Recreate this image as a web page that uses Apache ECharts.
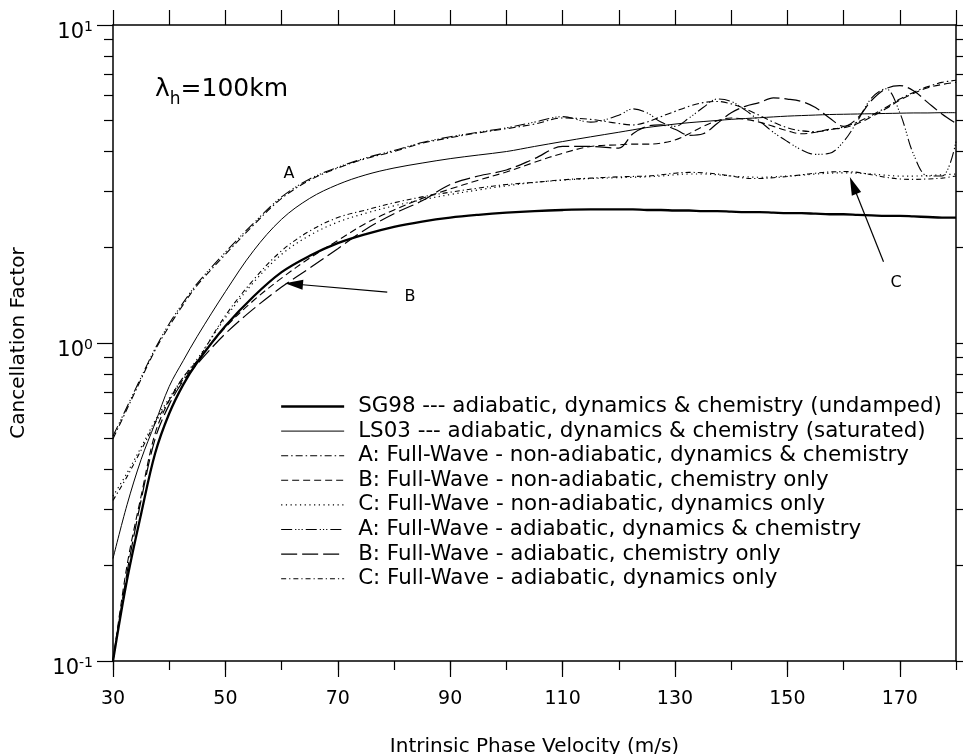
<!DOCTYPE html>
<html><head><meta charset="utf-8">
<script src="https://cdn.jsdelivr.net/npm/echarts@6/dist/echarts.min.js"></script>
<style>html,body{margin:0;padding:0;background:#fff}#c{width:963px;height:754px}</style>
</head><body><div id="c"></div>
<script>
// ---------- data ----------
const velocity = [30,32.5,35,37.5,40,42.5,45,50,55,60,65,70,75,80,85,90,95,100,105,110,115,120,
  122.5,125,127.5,130,132.5,135,137.5,140,142.5,145,147.5,150,152.5,155,157.5,160,162.5,165,167.5,170,172.5,175,177.5,180];

const sg98 = [0.10,0.18,0.29,0.45,0.60,0.74,0.87,1.13,1.40,1.67,1.88,2.06,2.20,2.32,2.41,2.48,2.53,2.57,2.60,2.62,2.63,2.63,
  2.63,2.62,2.62,2.61,2.61,2.60,2.60,2.59,2.58,2.58,2.57,2.56,2.56,2.55,2.54,2.54,2.53,2.52,2.51,2.51,2.50,2.49,2.48,2.48];
const ls03 = [0.21,0.31,0.43,0.56,0.73,0.88,1.05,1.45,1.95,2.45,2.85,3.15,3.38,3.55,3.68,3.8,3.9,4.0,4.15,4.3,4.45,4.6,
  4.68,4.76,4.82,4.88,4.93,4.97,5.01,5.05,5.08,5.11,5.14,5.17,5.19,5.21,5.23,5.24,5.25,5.26,5.27,5.28,5.29,5.29,5.30,5.30];
const aNonAdi = [0.50,0.62,0.77,0.95,1.13,1.32,1.52,1.90,2.35,2.85,3.25,3.55,3.80,4.00,4.25,4.42,4.58,4.72,4.88,5.10,5.05,4.90,
  4.85,4.95,5.15,5.35,5.55,5.70,5.75,5.65,5.45,5.20,4.95,4.75,4.65,4.62,4.68,4.78,4.95,5.20,5.50,5.85,6.15,6.40,6.60,6.70];
const bNonAdi = [0.10,0.20,0.33,0.52,0.66,0.78,0.88,1.12,1.36,1.60,1.85,2.10,2.38,2.62,2.85,3.05,3.25,3.45,3.70,3.95,4.15,4.20,
  4.22,4.22,4.25,4.35,4.55,4.80,5.00,5.10,5.05,4.95,4.80,4.65,4.55,4.60,4.70,4.75,4.90,5.15,5.45,5.80,6.10,6.35,6.50,6.60];
const cNonAdi = [0.33,0.39,0.47,0.57,0.67,0.78,0.89,1.20,1.55,1.90,2.18,2.40,2.56,2.70,2.82,2.93,3.03,3.12,3.20,3.25,3.29,3.31,
  3.32,3.33,3.35,3.38,3.40,3.40,3.38,3.35,3.33,3.32,3.33,3.35,3.37,3.40,3.42,3.43,3.42,3.40,3.37,3.35,3.35,3.36,3.38,3.40];
const aAdi = [0.51,0.63,0.78,0.96,1.15,1.34,1.54,1.93,2.38,2.88,3.28,3.57,3.82,4.03,4.27,4.45,4.60,4.75,4.95,5.15,4.95,5.20,
  5.45,5.30,4.95,4.80,5.10,5.50,5.85,5.75,5.40,5.00,4.60,4.30,4.05,3.92,3.95,4.30,5.00,5.90,6.30,5.30,3.90,3.35,3.35,4.30];
const bAdi = [0.10,0.19,0.32,0.50,0.64,0.76,0.86,1.07,1.28,1.50,1.72,1.98,2.28,2.55,2.80,3.15,3.35,3.50,3.80,4.15,4.15,4.10,
  4.55,4.80,4.85,4.70,4.50,4.55,4.90,5.30,5.55,5.70,5.90,5.85,5.75,5.50,5.10,4.80,5.10,5.80,6.30,6.45,6.20,5.70,5.25,4.90];
const cAdi = [0.32,0.38,0.46,0.56,0.66,0.77,0.88,1.22,1.58,1.95,2.25,2.48,2.62,2.76,2.88,2.98,3.07,3.15,3.20,3.26,3.30,3.33,
  3.34,3.35,3.38,3.42,3.44,3.43,3.40,3.35,3.30,3.29,3.31,3.34,3.38,3.42,3.45,3.46,3.44,3.38,3.32,3.28,3.27,3.28,3.30,3.35];

const seriesNames = [
  'SG98 --- adiabatic, dynamics & chemistry (undamped)',
  'LS03 --- adiabatic, dynamics & chemistry (saturated)',
  'A: Full-Wave - non-adiabatic, dynamics & chemistry',
  'B: Full-Wave - non-adiabatic, chemistry only',
  'C: Full-Wave - non-adiabatic, dynamics only',
  'A: Full-Wave - adiabatic, dynamics & chemistry',
  'B: Full-Wave - adiabatic, chemistry only',
  'C: Full-Wave - adiabatic, dynamics only'
];
const seriesValues = [sg98, ls03, aNonAdi, bNonAdi, cNonAdi, aAdi, bAdi, cAdi];

const xLabelValues = [30,50,70,90,110,130,150,170];
const xMajorTicks = [30,50,70,90,110,130,150,170];
const yMajorTicks = [0.1, 1, 10];
const yMinorTicks = [0.2,0.3,0.4,0.5,0.6,0.7,0.8,0.9,2,3,4,5,6,7,8,9];

// annotation arrows (data space): [tail, head centre]
const arrowB = [[78.8, 1.446], [62.2, 1.533]];
const arrowC = [[167.1, 1.80], [161.7, 3.13]];

// ---------- styles ----------
const FONT = 'DejaVu Sans';
const styles = [
  {width: 2.3, type: 'solid'},
  {width: 1.0, type: 'solid'},
  {width: 1.1, type: [7,3,1.5,3]},
  {width: 1.1, type: [7,4]},
  {width: 1.2, type: [1.2,3.5]},
  {width: 1.1, type: [11,3,1.2,2,1.2,2,1.2,3]},
  {width: 1.2, type: [16,5]},
  {width: 1.1, type: [5,3,1.2,3]}
];

const chart = echarts.init(document.getElementById('c'), null, {renderer: 'canvas'});

const series = seriesNames.map((name, i) => ({
  name: name,
  type: 'line',
  xAxisIndex: 0, yAxisIndex: 0,
  data: velocity.map((v, j) => [v, seriesValues[i][j]]),
  showSymbol: false, symbol: 'none',
  smooth: 0.35,
  lineStyle: {color: '#000', width: styles[i].width, type: styles[i].type},
  itemStyle: {color: '#000'},
  emphasis: {disabled: true},
  silent: true,
  animation: false,
  z: 3
}));

series[0].markLine = {
  silent: true,
  animation: false,
  symbol: ['none', 'path://M5 0 L10 18 L0 18 Z'],
  symbolKeepAspect: true,
  symbolSize: 18,
  lineStyle: {color: '#000', width: 1.2, type: 'solid'},
  itemStyle: {color: '#000'},
  label: {show: false},
  emphasis: {disabled: true},
  data: [
    [{coord: arrowB[0]}, {coord: arrowB[1]}],
    [{coord: arrowC[0]}, {coord: arrowC[1]}]
  ]
};

const axisLineStyle = {color: '#000', width: 1.5};
const tickStyle = {color: '#000', width: 1.2};

function yAxisDef(pos, ticks, len, showLine, showLabel) {
  const ax = {
    type: 'log', logBase: 10, min: 0.1, max: 10, position: pos,
    axisLine: {show: showLine, lineStyle: axisLineStyle},
    axisTick: {show: true, inside: false, length: len, customValues: ticks, lineStyle: tickStyle},
    minorTick: {show: false},
    splitLine: {show: false},
    axisLabel: {show: false}
  };
  if (showLabel) {
    ax.axisLabel = {
      show: true, customValues: yMajorTicks, margin: 20,
      formatter: function (v) {
        const e = Math.round(Math.log10(v));
        return '{b|10}{s|' + e + '}';
      },
      rich: {
        b: {fontSize: 21, fontFamily: FONT, color: '#000', padding: [16,0,0,0], verticalAlign: 'top'},
        s: {fontSize: 14, fontFamily: FONT, color: '#000', padding: [14,0,0,0], verticalAlign: 'top'}
      }
    };
    ax.name = 'Cancellation Factor';
    ax.nameLocation = 'middle';
    ax.nameGap = 84;
    ax.nameTextStyle = {fontSize: 20, fontFamily: FONT, color: '#000'};
  }
  return ax;
}

const option = {
  backgroundColor: '#fff',
  animation: false,
  grid: {left: 113, right: 7, top: 25, bottom: 93, containLabel: false, outerBoundsMode: 'none'},
  xAxis: [
    {
      type: 'value', min: 30, max: 180, interval: 10, position: 'bottom',
      axisLine: {show: true, onZero: false, lineStyle: axisLineStyle},
      axisTick: {show: true, length: 9, lineStyle: tickStyle},
      splitLine: {show: false},
      axisLabel: {
        margin: 29, fontSize: 19, fontFamily: FONT, color: '#000',
        formatter: function (v) { return xLabelValues.indexOf(v) >= 0 ? String(v) : ''; }
      },
      name: 'Intrinsic Phase Velocity (m/s)', nameLocation: 'middle', nameGap: 76,
      nameTextStyle: {fontSize: 20, fontFamily: FONT, color: '#000'}
    },
    {
      type: 'value', min: 30, max: 180, interval: 20, position: 'bottom',
      axisLine: {show: false, onZero: false},
      axisTick: {show: true, length: 16, customValues: xMajorTicks, lineStyle: tickStyle},
      splitLine: {show: false}, axisLabel: {show: false}
    },
    {
      type: 'value', min: 30, max: 180, interval: 10, position: 'top',
      axisLine: {show: true, onZero: false, lineStyle: axisLineStyle},
      axisTick: {show: true, length: 15, lineStyle: tickStyle},
      splitLine: {show: false}, axisLabel: {show: false}
    }
  ],
  yAxis: [
    yAxisDef('left', yMinorTicks, 9, true, true),
    yAxisDef('left', yMajorTicks, 16, false, false),
    yAxisDef('right', yMinorTicks, 9, true, false),
    yAxisDef('right', yMajorTicks, 16, false, false)
  ],
  legend: {
    show: true, orient: 'vertical', left: 280, top: 396, padding: 0,
    itemWidth: 63, itemHeight: 14, itemGap: 3.6,
    selectedMode: false,
    textStyle: {fontSize: 21.4, fontFamily: FONT, color: '#000', padding: [0,0,0,9]},
    lineStyle: {width: 'inherit'},
    itemStyle: {opacity: 0, borderWidth: 0},
    data: seriesNames
  },
  graphic: [
    {
      type: 'text', left: 155, top: 77, silent: true,
      style: {
        text: '{l|λ}{h|h}{l|=100km}',
        rich: {
          l: {fontSize: 25, fontFamily: FONT, fill: '#000', verticalAlign: 'top'},
          h: {fontSize: 17, fontFamily: FONT, fill: '#000', verticalAlign: 'top', padding: [14,0,0,0]}
        }
      }
    },
    {type: 'text', x: 289, y: 174, silent: true, style: {text: 'A', fontSize: 16, fontFamily: FONT, fill: '#000', align: 'center', verticalAlign: 'middle'}},
    {type: 'text', x: 410, y: 297, silent: true, style: {text: 'B', fontSize: 16, fontFamily: FONT, fill: '#000', align: 'center', verticalAlign: 'middle'}},
    {type: 'text', x: 896, y: 283, silent: true, style: {text: 'C', fontSize: 16, fontFamily: FONT, fill: '#000', align: 'center', verticalAlign: 'middle'}}
  ],
  series: series
};

chart.setOption(option);
</script>
</body></html>
